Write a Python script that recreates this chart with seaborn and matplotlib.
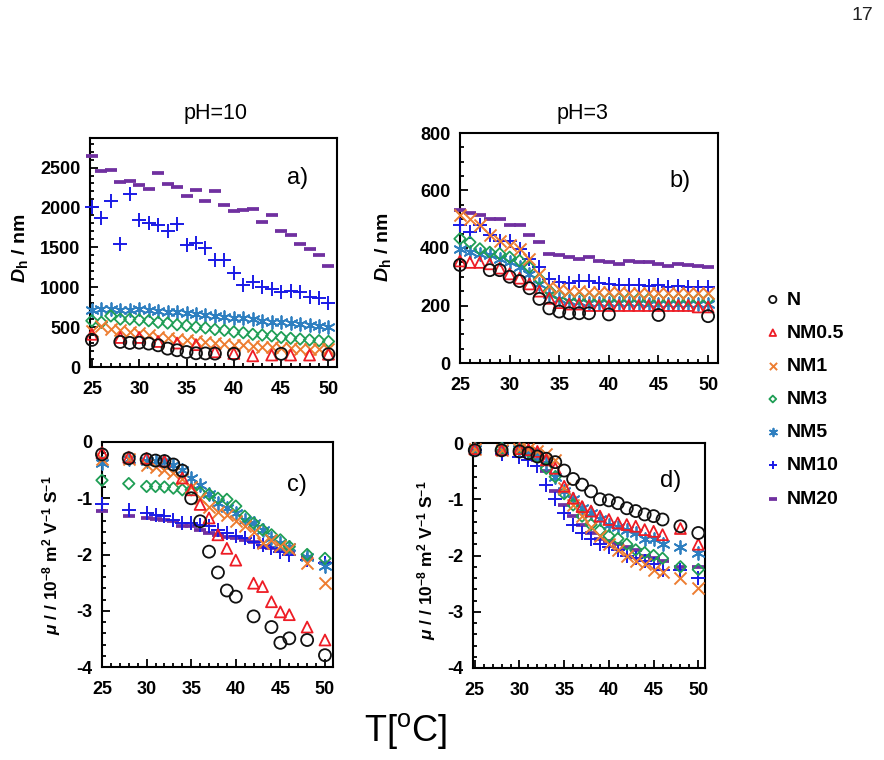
import matplotlib
matplotlib.use("Agg")
import matplotlib.pyplot as plt
from matplotlib.ticker import MultipleLocator
import seaborn as sns

# ---- data ----
labels = ["N", "NM0.5", "NM1", "NM3", "NM5", "NM10", "NM20"]

T_full = list(range(25, 51))
T_N = [25, 28, 29, 30, 31, 32, 33, 34, 35, 36, 37, 38, 40, 45, 50]
T_even = [25, 28, 30, 32, 34, 36, 38, 40, 42, 44, 46, 48, 50]
T_mu = [25, 28, 30, 31, 32, 33, 34, 35, 36, 37, 38, 39, 40, 41, 42, 43, 44, 45, 46, 48, 50]
T_c_N = [25, 28, 30, 31, 32, 33, 34, 35, 36, 37, 38, 39, 40, 42, 44, 45, 46, 48, 50]
T_c_NM05 = [25, 28, 30, 32, 34, 35, 36, 37, 38, 39, 40, 42, 43, 44, 45, 46, 48, 50]

# a) Dh at pH=10
a_N = [340, 314, 302, 305, 293, 272, 230, 210, 188, 172, 170, 168, 165, 165, 160]
a_NM05 = [410, 370, 370, 320, 300, 280, 190, 170, 140, 150, 150, 150, 160]
a_NM1 = [450, 520, 480, 460, 440, 420, 400, 380, 360, 350, 340, 320, 310, 300, 290, 280,
         270, 260, 250, 250, 240, 240, 230, 230, 220, 220]
a_NM3 = [580, 560, 640, 600, 600, 590, 580, 560, 550, 530, 520, 500, 490, 470, 460, 440,
         430, 410, 400, 390, 370, 360, 350, 340, 330, 320]
a_NM5 = [720, 730, 725, 715, 720, 730, 710, 700, 690, 690, 680, 670, 650, 640, 630, 620,
         610, 600, 580, 570, 560, 550, 540, 530, 515, 505]
a_NM10 = [2000, 1870, 2080, 1540, 2170, 1840, 1800, 1780, 1700, 1790, 1530, 1560, 1490,
          1340, 1340, 1180, 1030, 1070, 1005, 975, 940, 950, 940, 880, 870, 800]
a_NM20 = [2650, 2460, 2470, 2320, 2330, 2280, 2230, 2430, 2290, 2260, 2140, 2220, 2080,
          2200, 2030, 1950, 1970, 1980, 1820, 1900, 1700, 1660, 1540, 1480, 1400, 1270]

# b) Dh at pH=3
b_N = [341, 323, 323, 300, 285, 260, 223, 190, 179, 173, 173, 173, 169, 167, 163]
b_NM05 = [355, 350, 350, 345, 330, 310, 295, 275, 250, 225, 210, 205, 205, 200, 200, 200,
          200, 200, 200, 200, 200, 200, 200, 200, 195, 195]
b_NM1 = [516, 502, 479, 444, 426, 409, 397, 362, 309, 269, 257, 250, 250, 248, 248, 246,
         246, 245, 245, 245, 245, 244, 244, 243, 243, 242]
b_NM3 = [432, 420, 397, 385, 380, 368, 356, 333, 292, 251, 234, 228, 226, 225, 225, 224,
         224, 223, 223, 222, 222, 222, 222, 222, 222, 222]
b_NM5 = [397, 385, 380, 374, 362, 350, 333, 309, 274, 239, 222, 215, 212, 210, 210, 208,
         208, 207, 207, 206, 206, 205, 205, 205, 205, 205]
b_NM10 = [479, 455, 479, 444, 426, 426, 397, 362, 333, 292, 283, 280, 286, 286, 280, 274,
          272, 270, 272, 268, 270, 266, 268, 266, 266, 264]
b_NM20 = [531, 523, 516, 502, 502, 479, 479, 444, 420, 380, 376, 368, 362, 368, 356, 350,
          345, 356, 353, 350, 345, 339, 345, 341, 339, 333]

# c) mobility at pH=10
c_N = [-0.22, -0.29, -0.31, -0.33, -0.34, -0.40, -0.51, -1.0, -1.41, -1.95, -2.32, -2.64,
       -2.75, -3.1, -3.29, -3.57, -3.49, -3.52, -3.79]
c_NM05 = [-0.19, -0.27, -0.29, -0.34, -0.64, -0.85, -1.11, -1.35, -1.65, -1.89, -2.1,
          -2.51, -2.57, -2.84, -3.02, -3.07, -3.29, -3.52]
c_NM1 = [-0.3, -0.3, -0.4, -0.45, -0.5, -0.55, -0.65, -0.8, -1.0, -1.15, -1.25, -1.3, -1.4,
         -1.5, -1.6, -1.8, -1.75, -1.85, -1.9, -2.15, -2.5]
c_NM3 = [-0.68, -0.74, -0.79, -0.79, -0.8, -0.82, -0.85, -0.85, -0.9, -0.93, -1.0, -1.02,
         -1.14, -1.32, -1.44, -1.56, -1.65, -1.74, -1.86, -2.0, -2.07]
c_NM5 = [-0.37, -0.31, -0.34, -0.34, -0.34, -0.4, -0.49, -0.64, -0.76, -0.93, -1.08, -1.17,
         -1.26, -1.38, -1.44, -1.56, -1.71, -1.8, -1.86, -2.04, -2.21]
c_NM10 = [-1.11, -1.2, -1.26, -1.29, -1.32, -1.38, -1.44, -1.44, -1.47, -1.49, -1.56, -1.62,
          -1.67, -1.71, -1.77, -1.83, -1.89, -1.95, -2.0, -2.1, -2.15]
c_NM20 = [-1.22, -1.31, -1.35, -1.37, -1.38, -1.4, -1.5, -1.5, -1.56, -1.62, -1.65, -1.68,
          -1.71, -1.74, -1.77, -1.86, -1.89, -1.92, -1.95, -2.04, -2.15]

# d) mobility at pH=3
d_N = [-0.13, -0.13, -0.15, -0.18, -0.24, -0.28, -0.34, -0.49, -0.64, -0.74, -0.86, -1.0,
       -1.02, -1.07, -1.16, -1.21, -1.27, -1.3, -1.36, -1.48, -1.6]
d_NM05 = [-0.1, -0.12, -0.1, -0.12, -0.15, -0.3, -0.45, -0.77, -0.98, -1.13, -1.21, -1.3,
          -1.36, -1.42, -1.45, -1.48, -1.54, -1.57, -1.63, -1.52, -1.8]
d_NM1 = [-0.1, -0.12, -0.1, -0.1, -0.15, -0.2, -0.3, -0.8, -1.1, -1.3, -1.5, -1.65, -1.8,
         -1.9, -2.0, -2.1, -2.15, -2.25, -2.3, -2.4, -2.58]
d_NM3 = [-0.1, -0.1, -0.1, -0.15, -0.25, -0.45, -0.6, -0.9, -1.1, -1.3, -1.45, -1.55, -1.65,
         -1.7, -1.8, -1.9, -1.95, -2.0, -2.05, -2.2, -2.25]
d_NM5 = [-0.1, -0.1, -0.1, -0.15, -0.2, -0.35, -0.6, -0.85, -1.0, -1.15, -1.25, -1.35,
         -1.45, -1.5, -1.55, -1.6, -1.7, -1.7, -1.8, -1.85, -1.95]
d_NM10 = [-0.12, -0.2, -0.25, -0.3, -0.4, -0.74, -1.0, -1.25, -1.45, -1.6, -1.7, -1.8,
          -1.85, -1.9, -2.0, -2.05, -2.1, -2.15, -2.25, -2.25, -2.4]
d_NM20 = [-0.12, -0.15, -0.15, -0.2, -0.3, -0.5, -0.85, -1.1, -1.3, -1.45, -1.6, -1.7,
          -1.75, -1.8, -1.85, -1.9, -2.0, -2.05, -2.1, -2.2, -2.2]

# ---- style ----
colors = ["#111111", "#ee1c25", "#ed7d31", "#1f9e55", "#2e7fc0", "#1a1ae6", "#7030a0"]
markers = ["o", "^", "x", "D", (6, 2, 0), "+", "_"]
hollow = [True, True, False, True, False, False, False]
sizes = [75, 62, 75, 34, 85, 90, 85]
widths = [1.3, 1.3, 1.4, 1.3, 1.3, 1.4, 2.7]

sns.set_theme(style="white")
plt.rcParams["font.family"] = ["Liberation Sans", "DejaVu Sans"]
plt.rcParams["mathtext.fontset"] = "custom"
plt.rcParams["mathtext.it"] = "Liberation Sans:italic:bold"
plt.rcParams["mathtext.rm"] = "Liberation Sans:bold"
for key in ("text.color", "axes.labelcolor", "xtick.color", "ytick.color"):
    plt.rcParams[key] = "black"

fig = plt.figure(figsize=(8.84, 7.6), dpi=100)
W, H = 884, 760


def add_axes(left, top, right, bottom):
    return fig.add_axes([left / W, 1 - bottom / H, (right - left) / W, (bottom - top) / H])


ax_a = add_axes(90, 138, 337, 367)
ax_b = add_axes(460, 133, 718, 363)
ax_c = add_axes(102, 442, 333, 667)
ax_d = add_axes(473, 443, 705, 668)

panels = [
    (ax_a, [T_N, T_even, T_full, T_full, T_full, T_full, T_full],
     [a_N, a_NM05, a_NM1, a_NM3, a_NM5, a_NM10, a_NM20]),
    (ax_b, [T_N, T_full, T_full, T_full, T_full, T_full, T_full],
     [b_N, b_NM05, b_NM1, b_NM3, b_NM5, b_NM10, b_NM20]),
    (ax_c, [T_c_N, T_c_NM05, T_mu, T_mu, T_mu, T_mu, T_mu],
     [c_N, c_NM05, c_NM1, c_NM3, c_NM5, c_NM10, c_NM20]),
    (ax_d, [T_mu] * 7,
     [d_N, d_NM05, d_NM1, d_NM3, d_NM5, d_NM10, d_NM20]),
]

for ax, xs, ys in panels:
    for i in reversed(range(len(labels))):
        kw = dict(x=xs[i], y=ys[i], ax=ax, marker=markers[i], s=sizes[i],
                  linewidth=widths[i], clip_on=False, zorder=3 + (6 - i), label=labels[i])
        if hollow[i]:
            kw.update(facecolor="none", edgecolor=colors[i])
        else:
            kw.update(color=colors[i])
        sns.scatterplot(**kw)
    if ax.get_legend() is not None:
        ax.get_legend().remove()

for ax in (ax_a, ax_b, ax_c, ax_d):
    for sp in ax.spines.values():
        sp.set_color("black")
        sp.set_linewidth(1.5)
    ax.xaxis.set_major_locator(MultipleLocator(5))
    ax.xaxis.set_minor_locator(MultipleLocator(1))
    ax.tick_params(which="both", direction="in", top=False, right=False,
                   left=True, bottom=True, color="black", width=1.3)
    ax.tick_params(which="major", length=6, pad=7)
    ax.tick_params(which="minor", length=3)
    ax.tick_params(axis="x", which="major", pad=10)
    ax.set_xlabel("")

ax_a.set_xlim(24.8, 50.9)
ax_a.set_ylim(0, 2870)
ax_a.yaxis.set_minor_locator(MultipleLocator(100))

ax_b.set_xlim(25, 51)
ax_b.set_ylim(0, 800)
ax_b.yaxis.set_minor_locator(MultipleLocator(50))

for ax in (ax_c, ax_d):
    ax.set_ylim(-4, 0)
    ax.yaxis.set_minor_locator(MultipleLocator(0.2))
ax_c.set_xlim(25, 50.9)
ax_d.set_xlim(24.8, 50.75)

tick_kw = dict(fontsize=13, fontweight="bold")
for ax in (ax_a, ax_b, ax_c, ax_d):
    ax.set_xticks([25, 30, 35, 40, 45, 50])
    ax.set_xticklabels(["25", "30", "35", "40", "45", "50"], **tick_kw)
ax_a.set_yticks([0, 500, 1000, 1500, 2000, 2500])
ax_a.set_yticklabels(["0", "500", "1000", "1500", "2000", "2500"], **tick_kw)
ax_b.set_yticks([0, 200, 400, 600, 800])
ax_b.set_yticklabels(["0", "200", "400", "600", "800"], **tick_kw)
for ax in (ax_c, ax_d):
    ax.set_yticks([-4, -3, -2, -1, 0])
    ax.set_yticklabels(["-4", "-3", "-2", "-1", "0"], **tick_kw)

dh_label = r"$D_{\mathregular{h}}$ / nm"
mu_label = (r"$\mu$ / / 10$^{\mathregular{-8}}$ m$^{\mathregular{2}}$ "
            r"V$^{\mathregular{-1}}$ S$^{\mathregular{-1}}$")
ax_a.set_ylabel(dh_label, fontsize=14, fontweight="bold")
ax_b.set_ylabel(dh_label, fontsize=14, fontweight="bold")
ax_c.set_ylabel(mu_label, fontsize=12.5, fontweight="bold")
ax_d.set_ylabel(mu_label, fontsize=12.5, fontweight="bold")
ax_a.yaxis.set_label_coords(-0.243, 0.52)
ax_b.yaxis.set_label_coords(-0.26, 0.504)
ax_c.yaxis.set_label_coords(-0.169, 0.498)
ax_d.yaxis.set_label_coords(-0.151, 0.48)

for ax, letter, px, py in [(ax_a, "a)", 0.84, 0.825), (ax_b, "b)", 0.853, 0.79),
                           (ax_c, "c)", 0.844, 0.81), (ax_d, "d)", 0.85, 0.83)]:
    ax.text(px, py, letter, transform=ax.transAxes, fontsize=17,
            ha="center", va="center")

fig.text(216 / W, 1 - 119 / H, "pH=10", fontsize=15.5, ha="center", va="baseline")
fig.text(582 / W, 1 - 119 / H, "pH=3", fontsize=15.5, ha="center", va="baseline")
fig.text(862 / W, 1 - 15 / H, "17", fontsize=14, ha="center", va="center", color="#222222")
fig.text(406 / W, 1 - 731 / H, r"T[$^{\mathregular{o}}$C]", fontsize=26,
         ha="center", va="center")

handles, labs = ax_b.get_legend_handles_labels()
order = [labs.index(l) for l in labels]
fig.legend([handles[k] for k in order], labels, loc="upper left",
           bbox_to_anchor=(766 / W, 1 - 291 / H), frameon=False,
           prop=dict(size=14, weight="bold"), markerscale=0.6,
           handlelength=0.7, handletextpad=0.35, labelspacing=0.8,
           borderpad=0, borderaxespad=0)

fig.savefig("out.png", dpi=100)
